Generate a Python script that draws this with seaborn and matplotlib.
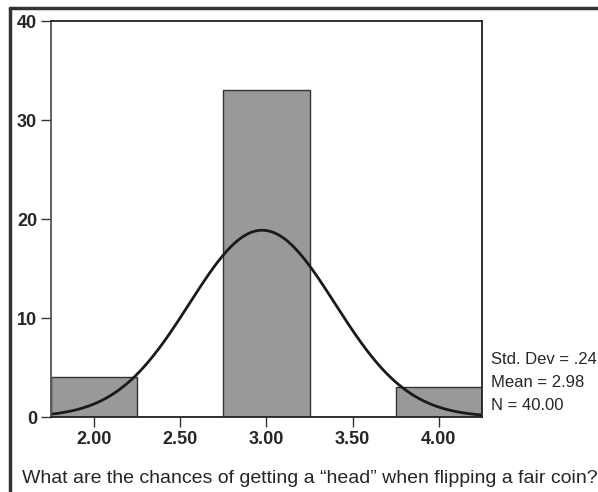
""" SPSS-style histogram of coin-flip answers with a fitted normal curve. """

import numpy as np
import matplotlib as mpl
import matplotlib.pyplot as plt
import seaborn as sns
from matplotlib.lines import Line2D

# Data
answers = [2.0, 3.0, 4.0]
counts = [4, 33, 3]
bin_edges = [1.75, 2.25, 2.75, 3.25, 3.75, 4.25]
x_ticks = [2.0, 2.5, 3.0, 3.5, 4.0]
y_ticks = [0, 10, 20, 30, 40]
stats_lines = ["Std. Dev = .24", "Mean = 2.98", "N = 40.00"]
caption = "What are the chances of getting a \u201chead\u201d when flipping a fair coin?"

sns.set_style("white")
plt.rcParams["font.family"] = ["Liberation Sans", "DejaVu Sans"]

fig = plt.figure(figsize=(5.98, 4.92), dpi=100)
ax = fig.add_axes([0.0853, 0.1524, 0.7207, 0.8049])

sns.histplot(x=answers, weights=counts, bins=bin_edges, color="#999999",
             edgecolor="#333333", linewidth=1.0, alpha=1.0, ax=ax)

# Normal curve fitted to the data, scaled to counts per bin
vals = np.repeat(answers, counts)
mu, sd = vals.mean(), vals.std(ddof=1)
width = bin_edges[1] - bin_edges[0]
xs = np.linspace(bin_edges[0], bin_edges[-1], 300)
ys = len(vals) * width * np.exp(-0.5 * ((xs - mu) / sd) ** 2) / (sd * np.sqrt(2 * np.pi))
sns.lineplot(x=xs, y=ys, color="#1a1a1a", linewidth=2.0, ax=ax)

ax.set_xlim(bin_edges[0], bin_edges[-1])
ax.set_ylim(0, 40)
ax.set_xticks(x_ticks)
ax.set_xticklabels([f"{t:.2f}" for t in x_ticks], fontweight="bold", fontsize=13)
ax.set_yticks(y_ticks)
ax.set_yticklabels([str(t) for t in y_ticks], fontweight="bold", fontsize=13)
ax.tick_params(axis="both", direction="out", length=7, width=1.0, color="#333333",
               left=True, bottom=True, pad=3)
ax.set_xlabel("")
ax.set_ylabel("")
for side in ["top", "right", "bottom", "left"]:
    ax.spines[side].set_visible(True)
    ax.spines[side].set_color("#222222")
    ax.spines[side].set_linewidth(1.3)
ax.spines["left"].set_color("#555555")

# Stats block to the right of the plot
for i, line in enumerate(stats_lines):
    fig.text(0.821, 0.2703 - i * 0.0472, line, fontsize=12, ha="left", va="center")

fig.text(0.037, 0.027, caption, fontsize=14, ha="left", va="center")

# Outer frame (top and left edges)
fig.add_artist(Line2D([0.016, 1.0], [0.983, 0.983], color="#333333", linewidth=2.5))
fig.add_artist(Line2D([0.016, 0.016], [0.0, 0.983], color="#333333", linewidth=2.5))

fig.savefig("out.png", dpi=100)
